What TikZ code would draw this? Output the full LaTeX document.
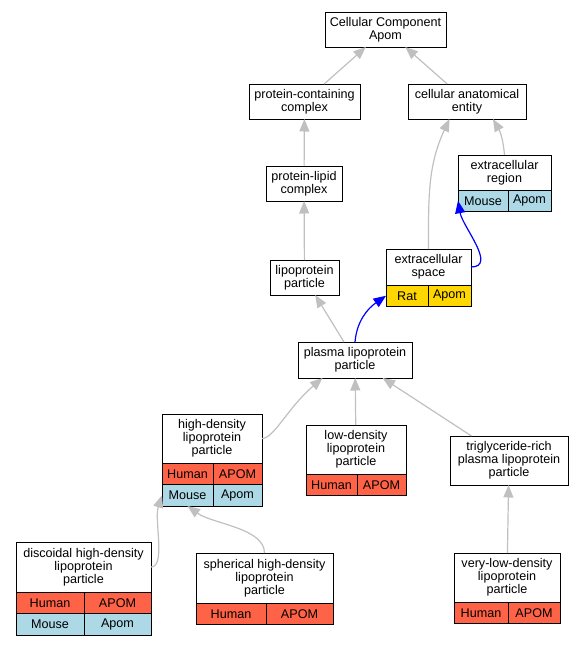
\documentclass[tikz,border=0pt]{standalone}
\usepackage{fontspec}
\setmainfont{Liberation Sans}
\usetikzlibrary{positioning,arrows.meta}
\definecolor{human}{HTML}{FF6347}
\definecolor{mouse}{HTML}{ADD8E6}
\definecolor{rat}{HTML}{FFD700}
\definecolor{linkgray}{HTML}{C0C0C0}

\begin{document}
\begin{tikzpicture} [
	x=1pt, y=1pt,
	every node/.style = {
		draw=black,
		line width=1pt,
		fill=white,
		inner sep=1pt,
		outer sep=0pt,
		align=center,
		font=\fontsize{12.6}{13}\selectfont
	},
	two/.style = {minimum height=35pt},
	three/.style = {minimum height=49pt},
	cell/.style = {minimum height=21.5pt, inner sep=0pt},
	humancell/.style = {cell, fill=human},
	mousecell/.style = {cell, fill=mouse},
	ratcell/.style = {cell, fill=rat},
	isa/.style = {draw=linkgray, line width=1.2pt, -{Triangle[length=12.5pt,width=10pt]}},
	partof/.style = {isa, draw=blue}
]

\useasboundingbox (0,0) rectangle (581,-645);

\node (root) [two, minimum width=121pt] at (385.5,-29.5) {Cellular Component\\ Apom};
\node (pcc) [two, minimum width=111pt] at (304.5,-101.5) {protein-containing\\ complex};
\node (cae) [two, minimum width=118pt] at (467,-101.5) {cellular anatomical\\ entity};
\node (plc) [two, minimum width=76pt] at (304,-183.5) {protein-lipid\\ complex};

\node (ecr) [two, minimum width=93pt] at (504.5,-172.5) {extracellular\\ region};
\node (ecr-m) [mousecell, minimum width=50pt, below right=0pt of ecr.south west] {Mouse};
\node (ecr-a) [mousecell, minimum width=43pt, right=0pt of ecr-m] {Apom};

\node (lpp) [two, minimum width=69pt] at (304.5,-277.5) {lipoprotein\\ particle};

\node (ecs) [minimum height=36pt, minimum width=85pt] at (428.5,-267) {extracellular\\ space};
\node (ecs-r) [ratcell, minimum width=42pt, below right=0pt of ecs.south west] {Rat};
\node (ecs-a) [ratcell, minimum width=43pt, right=0pt of ecs-r] {Apom};

\node (plp) [minimum height=36pt, minimum width=114pt] at (355,-360) {plasma lipoprotein\\ particle};

\node (hdl) [three, minimum width=100pt] at (212,-438.5) {high-density\\ lipoprotein\\ particle};
\node (hdl-h) [humancell, minimum width=51pt, below right=0pt of hdl.south west] {Human};
\node (hdl-a) [humancell, minimum width=49pt, right=0pt of hdl-h] {APOM};
\node (hdl-m) [mousecell, minimum width=51pt, below=0pt of hdl-h] {Mouse};
\node (hdl-b) [mousecell, minimum width=49pt, right=0pt of hdl-m] {Apom};

\node (ldl) [three, minimum width=100pt] at (356,-449.5) {low-density\\ lipoprotein\\ particle};
\node (ldl-h) [humancell, minimum width=51pt, below right=0pt of ldl.south west] {Human};
\node (ldl-a) [humancell, minimum width=49pt, right=0pt of ldl-h] {APOM};

\node (trl) [three, minimum width=118pt] at (509,-460.5) {triglyceride-rich\\ plasma lipoprotein\\ particle};

\node (dhdl) [minimum height=50pt, minimum width=135pt] at (83.5,-567) {discoidal high-density\\ lipoprotein\\ particle};
\node (dhdl-h) [humancell, minimum width=68pt, below right=0pt of dhdl.south west] {Human};
\node (dhdl-a) [humancell, minimum width=67pt, right=0pt of dhdl-h] {APOM};
\node (dhdl-m) [mousecell, minimum width=68pt, below=0pt of dhdl-h] {Mouse};
\node (dhdl-b) [mousecell, minimum width=67pt, right=0pt of dhdl-m] {Apom};

\node (shdl) [minimum height=50pt, minimum width=137pt] at (264.5,-578) {spherical high-density\\ lipoprotein\\ particle};
\node (shdl-h) [humancell, minimum width=70pt, below right=0pt of shdl.south west] {Human};
\node (shdl-a) [humancell, minimum width=67pt, right=0pt of shdl-h] {APOM};

\node (vldl) [three, minimum width=106pt] at (507,-577.5) {very-low-density\\ lipoprotein\\ particle};
\node (vldl-h) [humancell, minimum width=54pt, below right=0pt of vldl.south west] {Human};
\node (vldl-a) [humancell, minimum width=52pt, right=0pt of vldl-h] {APOM};

\draw[isa]  (pcc) -- (root);
\draw[isa]  (cae) -- (root);
\draw[isa]  (plc) -- (pcc);
\draw[isa]  (lpp) -- (plc);
\draw[isa]  (ecr.north) to[out=95,in=-60] (cae.-34);
\draw[isa]  (ecs.north) to[out=90,in=-115] (cae.-135);
\draw[isa]  (plp) -- (lpp);
\draw[partof]  (plp.north) to[out=85,in=215] (ecs-r.west);
\draw[partof]  (ecs.east) to[out=0,in=-80] (ecr-m.west);
\draw[isa]  (hdl.east) .. controls +(12,0) and +(-35,-30) .. (plp.-151);
\draw[isa]  (ldl) -- (plp);
\draw[isa]  (trl) -- (plp);
\draw[isa]  (vldl) -- (trl);
\draw[isa]  (dhdl.east) .. controls +(15,0) and +(-8,-25) .. (hdl-m.west);
\draw[isa]  (shdl.north) .. controls +(0,25) and +(25,-18) .. (hdl-m.south);

\end{tikzpicture}
\end{document}
